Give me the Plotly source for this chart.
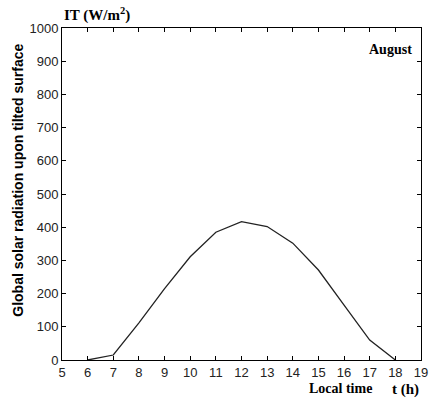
import plotly.graph_objects as go

hours = [6, 7, 8, 9, 10, 11, 12, 13, 14, 15, 16, 17, 18]
radiation = [0, 15, 112, 215, 311, 385, 417, 402, 352, 271, 165, 60, 0]
x_ticks = list(range(5, 20))
y_ticks = list(range(0, 1001, 100))

fig = go.Figure()
fig.add_trace(go.Scatter(x=hours, y=radiation, mode="lines",
                         line=dict(color="#222222", width=1.3), showlegend=False))

axis_common = dict(showline=True, linecolor="black", linewidth=1, mirror="ticks",
                   ticks="inside", ticklen=4, tickcolor="black", tickwidth=1,
                   showgrid=False, zeroline=False,
                   tickfont=dict(family="Liberation Sans, Arial", size=13, color="#222222"))

fig.update_xaxes(range=[5, 19], tickvals=x_ticks, **axis_common)
fig.update_yaxes(range=[0, 1000], tickvals=y_ticks, **axis_common)

serif = "Liberation Serif, Times New Roman"
fig.update_layout(
    width=440, height=399,
    margin=dict(l=62, r=13, t=28, b=39),
    paper_bgcolor="white", plot_bgcolor="white",
    annotations=[
        dict(text="<b>IT (W/m<sup>2</sup>)</b>", xref="paper", yref="paper", x=0.0, y=1.0,
             xanchor="left", yanchor="bottom", yshift=2, showarrow=False,
             font=dict(family=serif, size=15, color="black")),
        dict(text="<b>August</b>", xref="paper", yref="paper", x=0.98, y=0.965,
             xanchor="right", yanchor="top", showarrow=False,
             font=dict(family=serif, size=14, color="black")),
        dict(text="<b>Local time</b>", xref="paper", yref="paper", x=0.868, y=0,
             xanchor="right", yanchor="top", yshift=-19, showarrow=False,
             font=dict(family=serif, size=14, color="black")),
        dict(text="<b>t (h)</b>", xref="paper", yref="paper", x=1.0, y=0,
             xanchor="right", yanchor="top", yshift=-19, showarrow=False,
             font=dict(family=serif, size=15, color="black")),
        dict(text="<b>Global solar radiation upon tilted surface</b>", xref="paper", yref="paper",
             x=0, y=0.54, xanchor="center", yanchor="middle", xshift=-44, textangle=-90,
             showarrow=False, font=dict(family="Liberation Sans, Arial", size=14, color="black")),
    ],
)

fig.write_html("out.html")
